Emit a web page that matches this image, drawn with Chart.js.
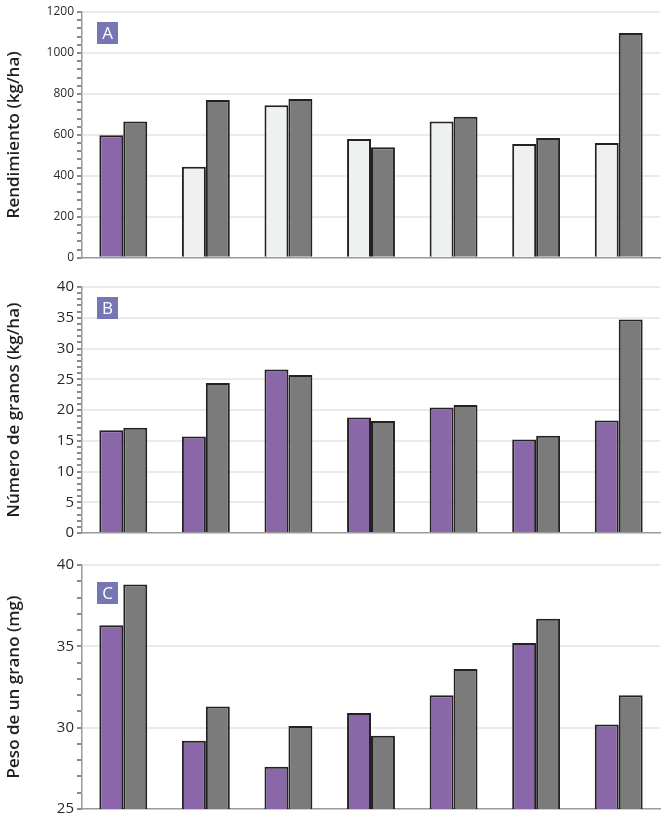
<!DOCTYPE html>
<html>
<head>
<meta charset="utf-8">
<script src="https://cdn.jsdelivr.net/npm/chart.js@4.4.1/dist/chart.umd.min.js"></script>
<style>
  html, body { margin: 0; padding: 0; background: #fff; overflow: hidden; }
  .panel { position: relative; width: 668px; }
  canvas { display: block; }
</style>
</head>
<body>
<div class="panel" style="height:268px"><canvas id="chart-a"></canvas></div>
<div class="panel" style="height:277px"><canvas id="chart-b"></canvas></div>
<div class="panel" style="height:276px"><canvas id="chart-c"></canvas></div>
<script>
// seven treatments, no labels shown on the x axis
var categories = ["1", "2", "3", "4", "5", "6", "7"];

// A: Rendimiento (kg/ha)
var yieldFirst  = [598, 445, 745, 580, 665, 555, 560];
var yieldSecond = [665, 770, 775, 540, 688, 585, 1097];

// B: Número de granos
var grainsFirst  = [16.7, 15.7, 26.6, 18.8, 20.4, 15.2, 18.3];
var grainsSecond = [17.1, 24.4, 25.7, 18.2, 20.8, 15.8, 34.7];

// C: Peso de un grano (mg)
var weightFirst  = [36.3, 29.2, 27.6, 30.9, 32.0, 35.2, 30.2];
var weightSecond = [38.8, 31.3, 30.1, 29.5, 33.6, 36.7, 32.0];

var purple = "#8a67a8";
var grey = "#7b7b7b";
var pale = "#eff1f1";
var edge = "#222222";

// little letter box in the corner of each plot
var letterBox = {
    id: "letterBox",
    afterDraw(chart, args, opts) {
        var ctx = chart.ctx
        var a = chart.chartArea
        ctx.save()
        ctx.fillStyle = "#7676b4"
        ctx.fillRect(a.left + 15, a.top + opts.dy, 21, 22)
        ctx.fillStyle = "#fff"
        ctx.font = "17px 'Open Sans'"
        ctx.textAlign = "center"
        ctx.textBaseline = "middle"
        ctx.fillText(opts.letter, a.left + 25.5, a.top + opts.dy + 12)
        ctx.restore()
    }
};

function createPanel(id, letter, dy, title, first, second, firstColors, min, max, step, major, pad, tickSize) {
    var ctx = document.getElementById(id)
    return new Chart(ctx, {
        type: "bar",
        data: {
            labels: categories,
            datasets: [{
                data: first,
                backgroundColor: firstColors,
                borderColor: edge,
                borderWidth: 2,
                categoryPercentage: 0.58,
                barPercentage: 1.0
            }, {
                data: second,
                backgroundColor: grey,
                borderColor: edge,
                borderWidth: 2,
                categoryPercentage: 0.58,
                barPercentage: 1.0
            }]
        },
        options: {
            responsive: true,
            maintainAspectRatio: false,
            animation: false,
            layout: { padding: { top: pad[0], right: 8, bottom: pad[1], left: 0 } },
            plugins: {
                legend: { display: false },
                tooltip: { enabled: false },
                letterBox: { letter: letter, dy: dy }
            },
            scales: {
                x: {
                    grid: { display: false },
                    ticks: { display: false },
                    border: { color: "#9a9a9a", width: 1.5 }
                },
                y: {
                    min: min,
                    max: max,
                    afterFit(scale) { scale.width = 82 },
                    ticks: {
                        stepSize: step,
                        autoSkip: false,
                        padding: 3,
                        color: "#2a2a2a",
                        font: { family: "'Open Sans'", size: tickSize },
                        callback(v) { return (Math.round(v) % major === 0) ? v : "" }
                    },
                    grid: {
                        color(c) { return (Math.round(c.tick.value) % major === 0 && c.tick.value !== min) ? "#ebebeb" : "rgba(0,0,0,0)" },
                        tickColor: "#8a8a8a",
                        tickLength: 5,
                        lineWidth: 2
                    },
                    border: { color: "#9a9a9a", width: 1.5 },
                    title: {
                        display: true,
                        text: title,
                        color: "#1e1e1e",
                        font: { family: "'Open Sans'", size: 17, weight: "600" },
                        padding: { top: 4, bottom: 0 }
                    }
                }
            }
        },
        plugins: [letterBox]
    })
}

var firstA = yieldFirst.map(function (v, i) { return i === 0 ? purple : pale })

createPanel("chart-a", "A", 10, "Rendimiento (kg/ha)", yieldFirst, yieldSecond, firstA, 0, 1200, 40, 200, [12, 2], 12)
createPanel("chart-b", "B", 10, "Número de granos (kg/ha)", grainsFirst, grainsSecond, purple, 0, 40, 1, 5, [19, 3], 15)
createPanel("chart-c", "C", 17, "Peso de un grano (mg)", weightFirst, weightSecond, purple, 25, 40, 1, 5, [20, 0], 15)
</script>
</body>
</html>
